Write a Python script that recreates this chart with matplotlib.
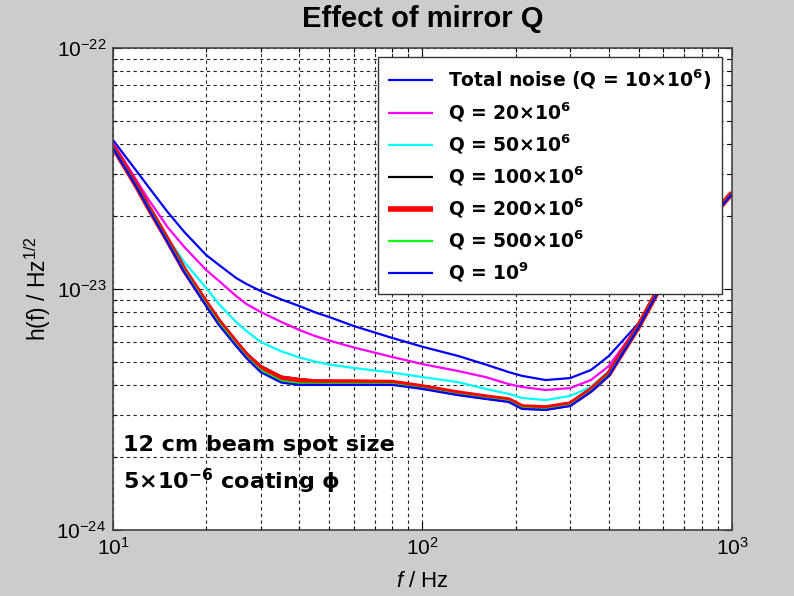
import matplotlib
matplotlib.use("Agg")
import matplotlib.pyplot as plt
from matplotlib.ticker import FixedLocator, NullFormatter
import numpy as np

plt.rcParams['font.family'] = ['Liberation Sans', 'DejaVu Sans']
plt.rcParams['mathtext.fontset'] = 'custom'
plt.rcParams['mathtext.rm'] = 'Liberation Sans'
plt.rcParams['mathtext.bf'] = 'DejaVu Sans:bold'
plt.rcParams['mathtext.it'] = 'Liberation Sans:italic'
plt.rcParams['mathtext.default'] = 'regular'

# Frequencies (Hz)
freq = [10, 11, 12, 13, 15, 17, 20, 22, 25, 27, 30, 35, 40, 45, 50, 60, 80, 100,
        130, 160, 190, 210, 250, 300, 350, 400, 500, 600, 700, 800, 1000]

# Strain noise h(f) in units of 1e-23 / sqrt(Hz)
total_q10 = [4.15, 3.53, 3.05, 2.66, 2.09, 1.724, 1.384, 1.258, 1.111, 1.049, 0.981,
             0.905, 0.850, 0.800, 0.765, 0.702, 0.626, 0.576,
             0.528, 0.486, 0.452, 0.436, 0.419, 0.427, 0.461, 0.527, 0.723,
             1.111, 1.438, 1.808, 2.527]
q20 = [4.035, 3.333, 2.780, 2.362, 1.808, 1.494, 1.199, 1.080, 0.935, 0.866, 0.803,
       0.730, 0.676, 0.638, 0.611, 0.572, 0.522, 0.488,
       0.457, 0.431, 0.403, 0.392, 0.381, 0.388, 0.419, 0.479, 0.709,
       1.090, 1.424, 1.800, 2.515]
q50 = [3.922, 3.21, 2.64, 2.20, 1.628, 1.294, 1.010, 0.866, 0.730, 0.669, 0.603,
       0.551, 0.520, 0.500, 0.486, 0.470, 0.450, 0.431,
       0.411, 0.385, 0.367, 0.353, 0.346, 0.360, 0.392, 0.457, 0.706,
       1.085, 1.417, 1.800, 2.502]
q100 = [3.89, 3.19, 2.65, 2.20, 1.61, 1.21, 0.89, 0.745, 0.61, 0.542, 0.48,
        0.433, 0.423, 0.417, 0.416, 0.415, 0.413, 0.396,
        0.373, 0.359, 0.349, 0.327, 0.324, 0.336, 0.384, 0.447, 0.705,
        1.083, 1.414, 1.795, 2.505]
q200 = [3.884, 3.18, 2.637, 2.189, 1.597, 1.199, 0.875, 0.732, 0.597, 0.530, 0.470,
        0.426, 0.417, 0.411, 0.411, 0.411, 0.409, 0.392,
        0.370, 0.356, 0.346, 0.324, 0.321, 0.333, 0.381, 0.444, 0.702,
        1.080, 1.411, 1.791, 2.502]
q500 = [3.86, 3.16, 2.62, 2.18, 1.58, 1.19, 0.86, 0.72, 0.587, 0.522, 0.459,
        0.415, 0.405, 0.404, 0.404, 0.404, 0.403, 0.387,
        0.365, 0.352, 0.342, 0.320, 0.317, 0.329, 0.376, 0.439, 0.698,
        1.073, 1.402, 1.780, 2.488]
q1e9 = [3.847, 3.148, 2.612, 2.168, 1.567, 1.176, 0.850, 0.709, 0.580, 0.517, 0.452,
        0.409, 0.400, 0.400, 0.400, 0.400, 0.400, 0.385,
        0.363, 0.350, 0.340, 0.318, 0.315, 0.327, 0.374, 0.436, 0.696,
        1.069, 1.397, 1.774, 2.479]

labels = [r'Total noise (Q = 10$\mathbf{\times 10^{6}}$)',
          r'Q = 20$\mathbf{\times 10^{6}}$',
          r'Q = 50$\mathbf{\times 10^{6}}$',
          r'Q = 100$\mathbf{\times 10^{6}}$',
          r'Q = 200$\mathbf{\times 10^{6}}$',
          r'Q = 500$\mathbf{\times 10^{6}}$',
          r'Q = 10$\mathbf{^{9}}$']
series = [total_q10, q20, q50, q100, q200, q500, q1e9]
colors = ['#0000ff', '#ff00ff', '#00ffff', '#000000', '#ff0000', '#00ff00', '#0000ff']
widths = [1.6, 1.6, 1.6, 1.6, 4.0, 1.6, 1.6]

x_major = [1e1, 1e2, 1e3]
y_major = [1e-24, 1e-23, 1e-22]

fig = plt.figure(figsize=(7.94, 5.96), dpi=100, facecolor='#cccccc')
ax = fig.add_axes([0.1423, 0.1107, 0.7796, 0.8088])
ax.set_facecolor('white')

f = np.array(freq)
for s, c, w, lab in zip(series, colors, widths, labels):
    ax.plot(f, np.array(s) * 1e-23, color=c, lw=w, label=lab,
            solid_capstyle='butt', solid_joinstyle='round')

ax.set_xscale('log')
ax.set_yscale('log')
ax.set_xlim(10, 1000)
ax.set_ylim(1e-24, 1e-22)

sub = np.arange(2, 10)
ax.xaxis.set_major_locator(FixedLocator(x_major))
ax.yaxis.set_major_locator(FixedLocator(y_major))
ax.xaxis.set_minor_locator(FixedLocator([m * d for d in x_major[:-1] for m in sub]))
ax.yaxis.set_minor_locator(FixedLocator([m * d for d in y_major[:-1] for m in sub]))
ax.xaxis.set_minor_formatter(NullFormatter())
ax.yaxis.set_minor_formatter(NullFormatter())
ax.set_xticklabels([r'$10^{1}$', r'$10^{2}$', r'$10^{3}$'])
ax.set_yticklabels([r'$10^{-24}$', r'$10^{-23}$', r'$10^{-22}$'])

ax.grid(True, which='both', color='#222222', linestyle=(0, (3, 3)), lw=0.8)
ax.set_axisbelow(True)
ax.tick_params(which='both', direction='in', top=True, right=True, labelsize=15, colors='black')
ax.tick_params(which='major', length=6, width=0.8, pad=5)
ax.tick_params(which='minor', length=3, width=0.8)
for sp in ax.spines.values():
    sp.set_color('#444444')
    sp.set_linewidth(1.2)

ax.set_title('Effect of mirror Q', fontsize=21, fontweight='bold', pad=15)
ax.set_xlabel(r'$\mathit{f}$ / Hz', fontsize=16, labelpad=9)
ax.set_ylabel(r'h(f) / Hz$^{1/2}$', fontsize=16.5, labelpad=2)

leg = ax.legend(loc='upper right', bbox_to_anchor=(0.984, 0.981), borderaxespad=0,
                fancybox=False, edgecolor='#333333', framealpha=1,
                prop={'family': 'DejaVu Sans', 'weight': 'bold', 'size': 13.5},
                handlelength=2.4, labelspacing=0.45, handletextpad=0.8, borderpad=0.55)
leg.get_frame().set_linewidth(1.0)

ax.text(0.016, 0.176, '12 cm beam spot size', transform=ax.transAxes,
        fontsize=16, fontweight='bold', family='DejaVu Sans', va='center', ha='left')
ax.text(0.016, 0.10, r'5$\mathbf{\times 10^{-6}}$ coating $\mathbf{\phi}$', transform=ax.transAxes,
        fontsize=16, fontweight='bold', family='DejaVu Sans', va='center', ha='left')

fig.savefig('out.png', dpi=100, facecolor=fig.get_facecolor())
